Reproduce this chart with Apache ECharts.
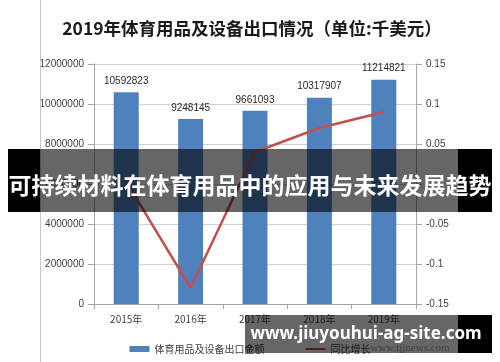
<!DOCTYPE html>
<html>
<head>
<meta charset="utf-8">
<script src="https://cdn.jsdelivr.net/npm/echarts@6/dist/echarts.min.js"></script>
<style>
html,body{margin:0;padding:0;background:#fff;}
#c{width:500px;height:362px;}
</style>
</head>
<body>
<div id="c"></div>
<script>
const categories = ['2015年', '2016年', '2017年', '2018年', '2019年'];
const exportValues = [10592823, 9248145, 9661093, 10317907, 11214821];
const growthValues = [0.003, -0.13, 0.04, 0.07, 0.09];
const leftTicks = [0, 2000000, 4000000, 6000000, 8000000, 10000000, 12000000];
const rightTicks = [-0.15, -0.1, -0.05, 0, 0.05, 0.1, 0.15];

const titleText = '2019年体育用品及设备出口情况（单位:千美元）';
const bannerText = '可持续材料在体育用品中的应用与未来发展趋势';
const siteText = 'www.jiuyouhui-ag-site.com';
const seriesNames = ['体育用品及设备出口金额', '同比增长'];

const numFont = '"Liberation Sans", "Noto Sans", sans-serif';
const cjkFont = '"Noto Sans CJK SC", sans-serif';

const chart = echarts.init(document.getElementById('c'), null, {renderer: 'canvas'});
chart.setOption({
  animation: false,
  backgroundColor: '#ffffff',
  title: {
    text: titleText,
    left: 247, top: 15, textAlign: 'center',
    textStyle: {fontFamily: cjkFont, fontSize: 17.5, fontWeight: 'bold', color: '#1a1a1a'}
  },
  grid: {left: 94, right: 84, top: 64, bottom: 58, containLabel: false},
  legend: {
    bottom: 3, left: 'center', itemGap: 40,
    textStyle: {fontFamily: cjkFont, fontSize: 10, color: '#404040'},
    data: [
      {name: seriesNames[0], icon: 'rect', itemStyle: {color: '#4f81bd'}},
      {name: seriesNames[1], itemStyle: {opacity: 0}, lineStyle: {color: '#c0504d', width: 2}}
    ],
    itemWidth: 20, itemHeight: 6
  },
  xAxis: {
    type: 'category', data: categories,
    axisLine: {lineStyle: {color: '#a6a6a6'}},
    axisTick: {show: true, alignWithLabel: false, length: 5, lineStyle: {color: '#a6a6a6'}},
    axisLabel: {fontFamily: cjkFont, fontSize: 10, color: '#404040', margin: 10}
  },
  yAxis: [
    {
      type: 'value', min: 0, max: 12000000, interval: 2000000,
      axisLine: {show: true, lineStyle: {color: '#a6a6a6'}},
      axisTick: {show: true, length: 6, lineStyle: {color: '#a6a6a6'}},
      axisLabel: {fontFamily: numFont, fontSize: 10, color: '#404040', margin: 10,
        formatter: v => leftTicks.includes(v) ? String(v) : ''},
      splitLine: {lineStyle: {color: '#d0d0d0'}}
    },
    {
      type: 'value', min: -0.15, max: 0.15, interval: 0.05,
      axisLine: {show: true, lineStyle: {color: '#a6a6a6'}},
      axisTick: {show: true, length: 6, lineStyle: {color: '#a6a6a6'}},
      axisLabel: {fontFamily: numFont, fontSize: 10, color: '#404040', margin: 10,
        formatter: v => {
          const r = Math.round(v * 100) / 100;
          const t = rightTicks.find(x => Math.abs(x - r) < 1e-9);
          return t === undefined ? '' : String(t);
        }},
      splitLine: {show: false}
    }
  ],
  series: [
    {
      name: seriesNames[0], type: 'bar', data: exportValues, yAxisIndex: 0,
      barWidth: 25,
      itemStyle: {color: '#4f81bd'},
      label: {show: true, position: 'top', distance: 6, fontFamily: numFont, fontSize: 10, color: '#262626'}
    },
    {
      name: seriesNames[1], type: 'line', data: growthValues, yAxisIndex: 1,
      symbol: 'none', showSymbol: false,
      lineStyle: {color: '#c0504d', width: 2.5},
      itemStyle: {color: '#c0504d'},
      label: {show: true, position: 'right', distance: 8, fontFamily: numFont, fontSize: 10, color: '#262626',
        formatter: p => p.value.toFixed(2)}
    }
  ],
  graphic: [
    {type: 'line', shape: {x1: 40.5, y1: 0, x2: 40.5, y2: 362}, style: {stroke: '#c8c8c8', lineWidth: 1}, z: 50},
    {type: 'rect', shape: {x: 8, y: 149, width: 32, height: 63}, style: {fill: '#000'}, z: 100},
    {type: 'rect', shape: {x: 40, y: 149, width: 418, height: 63}, style: {fill: 'rgba(0,0,0,0.6)'}, z: 100},
    {type: 'rect', shape: {x: 458, y: 149, width: 34, height: 63}, style: {fill: '#000'}, z: 100},
    {type: 'text', x: 250, y: 185, z: 101,
      style: {text: bannerText, fill: '#fff', font: 'bold 23px "Noto Sans CJK SC", sans-serif', align: 'center', verticalAlign: 'middle'}},
    {type: 'text', x: 410, y: 348, z: 90,
      style: {text: 'www.tjjnews.com', fill: 'rgba(90,90,90,0.6)', font: '11px "Liberation Serif", serif', align: 'center', verticalAlign: 'middle'}},
    {type: 'rect', shape: {x: 245, y: 315, width: 213, height: 38}, style: {fill: 'rgba(0,0,0,0.6)'}, z: 100},
    {type: 'rect', shape: {x: 458, y: 315, width: 34, height: 38}, style: {fill: '#000'}, z: 100},
    {type: 'text', x: 366, y: 334, z: 101,
      style: {text: siteText, fill: '#fff', font: 'bold 17px "Noto Sans", sans-serif', align: 'center', verticalAlign: 'middle'}}
  ]
});
</script>
</body>
</html>
